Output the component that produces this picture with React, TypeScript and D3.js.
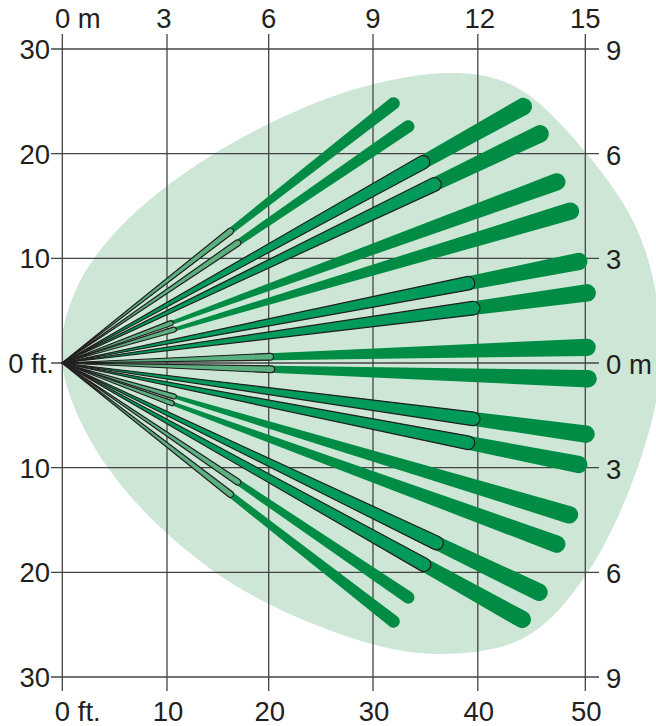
import React from "react";
import * as d3 from "d3";

// Grid ticks
const feetX = [0, 10, 20, 30, 40, 50];
const feetXLabels = ["0 ft.", "10", "20", "30", "40", "50"];
const metersTop = ["0 m", "3", "6", "9", "12", "15"];
const feetY = [30, 20, 10, 0, -10, -20, -30];
const feetYLabels = ["30", "20", "10", "0 ft.", "10", "20", "30"];
const metersRight = ["9", "6", "3", "0 m", "3", "6", "9"];

// Beam end points, in feet
const beamX = [31.7, 33.1, 44.1, 45.7, 47.3, 48.6, 49.4, 50.2, 50.2, 50.3, 50.1, 49.4, 48.5, 47.3, 45.6, 44.0, 33.1, 31.7];
const beamY = [24.8, 22.6, 24.5, 21.9, 17.3, 14.5, 9.7, 6.7, 1.5, -1.5, -6.8, -9.7, -14.5, -17.3, -21.9, -24.5, -22.4, -24.7];
// Reach (feet along x) of the outlined inner zone of each beam
const zoneX = [16.1, 16.8, 34.5, 35.6, 10.4, 10.7, 38.8, 39.3, 19.9, 20.0, 39.3, 38.8, 10.7, 10.5, 35.8, 34.6, 16.8, 16.1];
const zoneKind = ["near", "near", "mid", "mid", "near", "near", "mid", "mid", "near", "near", "mid", "mid", "near", "near", "mid", "mid", "near", "near"];

// Coverage area outline, in feet
const areaX = [0, 1.2, 5.3, 14.4, 27.5, 37.8, 43.5, 50, 55.3, 57.3, 55.5, 50, 44.1, 36, 27.5, 14.8, 4.3];
const areaY = [0, 6.7, 12.7, 19.9, 26, 27.7, 26.3, 20.2, 12, 1.2, -8.6, -20.4, -26.3, -27.8, -26.2, -20.1, -9.9];

const W = 656;
const H = 726;
const x = d3.scaleLinear().domain([0, 50]).range([62, 585]);
const y = d3.scaleLinear().domain([30, -30]).range([49, 677]);
// The printed grid is not quite even, so its columns have a scale of their own
const gridX = d3.scaleLinear().domain(feetX).range([62.3, 167, 268.7, 373, 477.8, 585.3]);

const INK = "#231f20";
const AREA = "#cde6d6";
const BEAM = "#008c44";
const MID = "#009a5a";
const NEAR = "#5bb07f";
const TAPER_LONG = 0.0165; // half width per px of beam length
const TAPER_SHORT = 0.0148;
const MIN_R = 2.5;

// Tapered wedge from the origin to (px, py), with a round end
function wedge(px: number, py: number, ox: number, oy: number, taper: number) {
  const dx = px - ox;
  const dy = py - oy;
  const len = Math.hypot(dx, dy);
  const r = Math.max(len * taper, MIN_R);
  const nx = -dy / len;
  const ny = dx / len;
  const p = d3.path();
  p.moveTo(ox, oy);
  p.lineTo(px + nx * r, py + ny * r);
  const a = Math.atan2(ny, nx);
  p.arc(px, py, r, a, a + Math.PI, true);
  p.closePath();
  return p.toString();
}

const areaLine = d3
  .line<number>()
  .x((i) => x(areaX[i]))
  .y((i) => y(areaY[i]))
  .curve(d3.curveCatmullRomClosed.alpha(0.5));

const taperOf = (i: number) => (i < 2 || i > 15 ? TAPER_SHORT : TAPER_LONG);

export default function App() {
  const ox = x(0);
  const oy = y(0);
  const font = { fontFamily: "'Liberation Sans', Arial, sans-serif", fontSize: 27.5, fill: INK };
  return (
    <svg width={W} height={H} viewBox={`0 0 ${W} ${H}`} style={{ position: "absolute", left: 0, top: 0, background: "#fff" }}>
      <path d={areaLine(d3.range(areaX.length)) ?? ""} fill={AREA} />
      <g stroke="#444" strokeWidth={1.3}>
        {feetX.map((v) => (
          <line key={v} x1={gridX(v)} x2={gridX(v)} y1={34} y2={691} />
        ))}
        {feetY.map((v) => (
          <line key={v} x1={51} x2={599} y1={y(v)} y2={y(v)} />
        ))}
      </g>
      {beamX.map((bx, i) => (
        <path key={i} d={wedge(x(bx), y(beamY[i]), ox, oy, taperOf(i))} fill={BEAM} />
      ))}
      {beamX.map((bx, i) => {
        const t = zoneX[i] / bx;
        return (
          <path
            key={i}
            d={wedge(x(bx * t), y(beamY[i] * t), ox, oy, taperOf(i))}
            fill={zoneKind[i] === "mid" ? MID : NEAR}
            stroke={INK}
            strokeWidth={1.2}
            strokeLinejoin="round"
          />
        );
      })}
      <g {...font} textAnchor="middle">
        {feetX.map((v, i) => (
          <text key={v} x={i === 0 ? gridX(v) + 15.5 : gridX(v) + 1} y={721}>{feetXLabels[i]}</text>
        ))}
        {feetX.map((v, i) => (
          <text key={v} x={i === 0 ? gridX(v) + 15.5 : gridX(v) + (i === 4 ? 2 : i === 1 ? -3 : 0)} y={28}>{metersTop[i]}</text>
        ))}
      </g>
      <g {...font} textAnchor="end">
        {feetY.map((v, i) => (
          <text key={v} x={i === 3 ? 54 : 50} y={y(v) + 10}>{feetYLabels[i]}</text>
        ))}
      </g>
      <g {...font} textAnchor="start">
        {feetY.map((v, i) => (
          <text key={v} x={606} y={y(v) + 11}>{metersRight[i]}</text>
        ))}
      </g>
    </svg>
  );
}
